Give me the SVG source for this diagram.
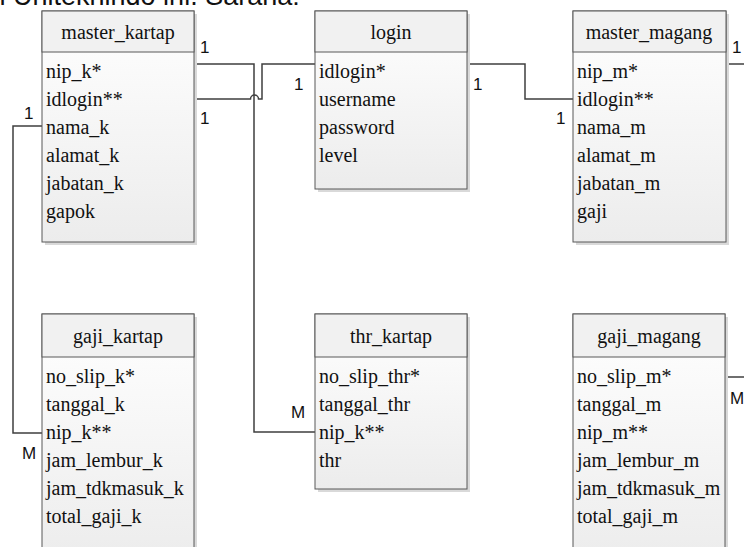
<svg xmlns="http://www.w3.org/2000/svg" width="744" height="547" viewBox="0 0 744 547">
<defs>
<linearGradient id="body" x1="0" y1="0" x2="0" y2="1">
<stop offset="0" stop-color="#ffffff"/>
<stop offset="1" stop-color="#ececec"/>
</linearGradient>
</defs>
<style>
.sh{fill:#d9d9d9;}
.hd{fill:#f1f1f1;stroke:#595959;stroke-width:1;}
.bd{fill:url(#body);stroke:#595959;stroke-width:1;}
.cn{fill:none;stroke:#3f3f3f;stroke-width:1.5;}
</style>
<rect width="744" height="547" fill="#ffffff"/>
<text x="-9.5" y="5" font-family="'Liberation Sans', Arial, sans-serif" font-size="27" fill="#111">n Unitekhindo ini. Sarana:</text>

<g id="connectors">
<path class="cn" d="M194,64 H254 V432 H315"/>
<path class="cn" d="M194,99 H250.5 A4,4 0 0 1 258.5,99 H262 V64 H315"/>
<path class="cn" d="M467,64 H525 V99 H573"/>
<path class="cn" d="M42,126 H13 V433 H42"/>
<path class="cn" d="M726,64 H744"/>
<path class="cn" d="M725,377 H744"/>
<g font-family="'Liberation Sans', Arial, sans-serif" font-size="17" fill="#111">
<text x="200" y="53">1</text>
<text x="200" y="124">1</text>
<text x="294" y="90">1</text>
<text x="473" y="90">1</text>
<text x="556" y="124">1</text>
<text x="24" y="119">1</text>
<text x="22" y="459">M</text>
<text x="291" y="418">M</text>
<text x="732" y="53">1</text>
<text x="730" y="404">M</text>
</g>
</g>

<g font-family="'Liberation Serif', 'Times New Roman', serif" font-size="20" fill="#111">
<g id="master_kartap">
<rect class="sh" x="45" y="14" width="152" height="231"/>
<rect class="bd" x="42" y="11" width="152" height="231"/>
<rect class="hd" x="42" y="11" width="152" height="41"/>
<text text-anchor="middle" x="118" y="39">master_kartap</text>
<text x="46" y="78">nip_k*</text>
<text x="46" y="106">idlogin**</text>
<text x="46" y="134">nama_k</text>
<text x="46" y="162">alamat_k</text>
<text x="46" y="190">jabatan_k</text>
<text x="46" y="218">gapok</text>
</g>

<g id="login">
<rect class="sh" x="318" y="14" width="152" height="178"/>
<rect class="bd" x="315" y="11" width="152" height="178"/>
<rect class="hd" x="315" y="11" width="152" height="41"/>
<text text-anchor="middle" x="391" y="39">login</text>
<text x="319" y="78">idlogin*</text>
<text x="319" y="106">username</text>
<text x="319" y="134">password</text>
<text x="319" y="162">level</text>
</g>

<g id="master_magang">
<rect class="sh" x="576" y="14" width="153" height="231"/>
<rect class="bd" x="573" y="11" width="153" height="231"/>
<rect class="hd" x="573" y="11" width="153" height="41"/>
<text text-anchor="middle" x="649" y="39">master_magang</text>
<text x="577" y="78">nip_m*</text>
<text x="577" y="106">idlogin**</text>
<text x="577" y="134">nama_m</text>
<text x="577" y="162">alamat_m</text>
<text x="577" y="190">jabatan_m</text>
<text x="577" y="218">gaji</text>
</g>

<g id="gaji_kartap">
<rect class="sh" x="45" y="317" width="152" height="250"/>
<rect class="bd" x="42" y="314" width="152" height="250"/>
<rect class="hd" x="42" y="314" width="152" height="43"/>
<text text-anchor="middle" x="118" y="343">gaji_kartap</text>
<text x="46" y="383">no_slip_k*</text>
<text x="46" y="411">tanggal_k</text>
<text x="46" y="439">nip_k**</text>
<text x="46" y="467">jam_lembur_k</text>
<text x="46" y="495">jam_tdkmasuk_k</text>
<text x="46" y="523">total_gaji_k</text>
</g>

<g id="thr_kartap">
<rect class="sh" x="318" y="317" width="152" height="175"/>
<rect class="bd" x="315" y="314" width="152" height="175"/>
<rect class="hd" x="315" y="314" width="152" height="43"/>
<text text-anchor="middle" x="391" y="343">thr_kartap</text>
<text x="319" y="383">no_slip_thr*</text>
<text x="319" y="411">tanggal_thr</text>
<text x="319" y="439">nip_k**</text>
<text x="319" y="467">thr</text>
</g>

<g id="gaji_magang">
<rect class="sh" x="576" y="317" width="152" height="250"/>
<rect class="bd" x="573" y="314" width="152" height="250"/>
<rect class="hd" x="573" y="314" width="152" height="43"/>
<text text-anchor="middle" x="649" y="343">gaji_magang</text>
<text x="577" y="383">no_slip_m*</text>
<text x="577" y="411">tanggal_m</text>
<text x="577" y="439">nip_m**</text>
<text x="577" y="467">jam_lembur_m</text>
<text x="577" y="495">jam_tdkmasuk_m</text>
<text x="577" y="523">total_gaji_m</text>
</g>
</g>
</svg>
